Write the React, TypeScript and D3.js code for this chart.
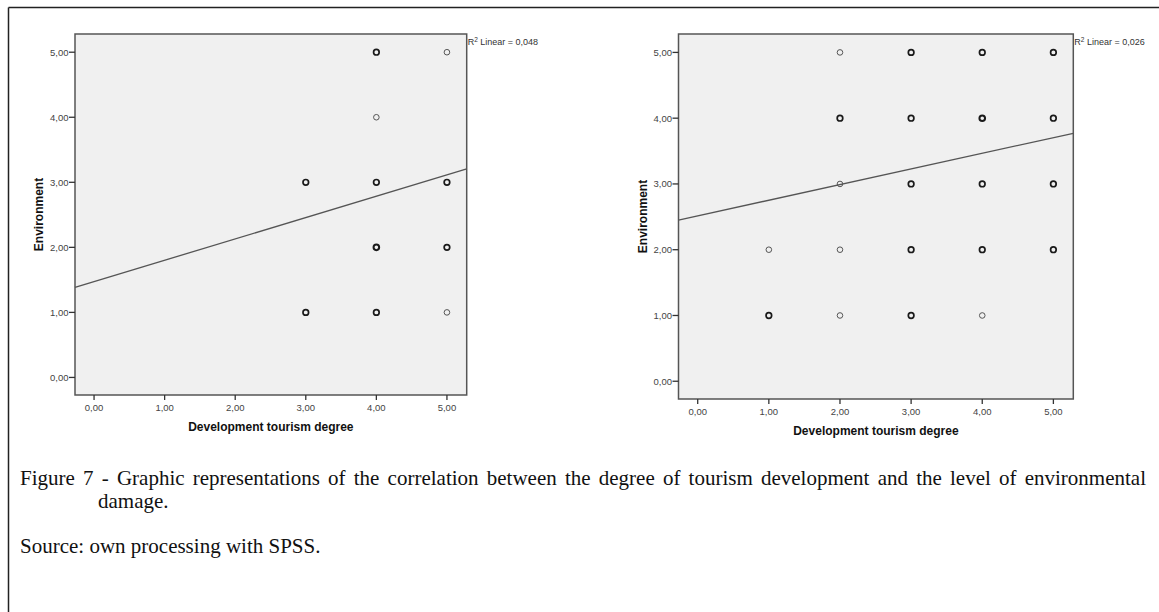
import React from 'react';
import * as d3 from 'd3';

// tick values shared by both scatter plots
const xTicks = [0, 1, 2, 3, 4, 5];
const yTicks = [0, 1, 2, 3, 4, 5];

// left plot: [tourism degree, environment, overlap count]
const leftPoints: [number, number, number][] = [
  [3, 3, 2], [3, 1, 2],
  [4, 5, 2], [4, 4, 1], [4, 3, 2], [4, 2, 3], [4, 1, 2],
  [5, 5, 1], [5, 3, 2], [5, 2, 2], [5, 1, 1],
];
const leftFit = { intercept: 1.473, slope: 0.3285 };
const leftR2 = '0,048';

// right plot
const rightPoints: [number, number, number][] = [
  [1, 2, 1], [1, 1, 2],
  [2, 5, 1], [2, 4, 2], [2, 3, 1], [2, 2, 1], [2, 1, 1],
  [3, 5, 2], [3, 4, 2], [3, 3, 2], [3, 2, 2], [3, 1, 2],
  [4, 5, 2], [4, 4, 3], [4, 3, 2], [4, 2, 2], [4, 1, 1],
  [5, 5, 2], [5, 4, 2], [5, 3, 2], [5, 2, 2],
];
const rightFit = { intercept: 2.515, slope: 0.2377 };
const rightR2 = '0,026';

const domain: [number, number] = [-0.27, 5.28];
const fmt = (v: number) => v.toFixed(2).replace('.', ',');
const sans = '"Liberation Sans", Arial, sans-serif';

type PanelProps = {
  left: number; top: number; width: number; height: number;
  points: [number, number, number][];
  fit: { intercept: number; slope: number };
  r2: string;
};

function Scatter({ left, top, width, height, points, fit, r2 }: PanelProps) {
  const x = d3.scaleLinear().domain(domain).range([left, left + width]);
  const y = d3.scaleLinear().domain(domain).range([top + height, top]);
  const bottom = top + height;
  const line = d3.line<number>()
    .x(d => x(d))
    .y(d => y(fit.intercept + fit.slope * d));

  return (
    <g>
      <rect x={left} y={top} width={width} height={height} fill="#f0f0f0" stroke="#555" strokeWidth={1.5} />
      {yTicks.map(t => (
        <g key={'y' + t}>
          <line x1={left - 6} x2={left} y1={y(t)} y2={y(t)} stroke="#333" strokeWidth={1.3} />
          <text x={left - 6.5} y={y(t)} dy="0.35em" textAnchor="end" fontSize={9.5} fill="#444" fontFamily={sans}>{fmt(t)}</text>
        </g>
      ))}
      {xTicks.map(t => (
        <g key={'x' + t}>
          <line x1={x(t)} x2={x(t)} y1={bottom} y2={bottom + 5} stroke="#333" strokeWidth={1.3} />
          <text x={x(t)} y={bottom + 13} dy="0.35em" textAnchor="middle" fontSize={9.5} fill="#444" fontFamily={sans}>{fmt(t)}</text>
        </g>
      ))}
      <path d={line(domain) || ''} fill="none" stroke="#555" strokeWidth={1.3} />
      {points.map(([px, py, n], i) => (
        <circle key={i} cx={x(px)} cy={y(py)} r={2.8}
          fill="none"
          stroke={n > 1 ? '#1a1a1a' : '#555'}
          strokeWidth={n > 2 ? 2 : n > 1 ? 1.7 : 1} />
      ))}
      <text x={left + width + 1} y={top + 11} fontSize={9} fill="#333" fontFamily={sans}>
        R<tspan fontSize={6.5} dy={-3.5}>2</tspan><tspan dy={3.5}> Linear = {r2}</tspan>
      </text>
      <text x={left + width / 2} y={bottom + 32} dy="0.35em" textAnchor="middle" fontSize={12} fontWeight="bold" fill="#111" fontFamily={sans}>
        Development tourism degree
      </text>
      <text transform={`translate(${left - 36},${top + height / 2}) rotate(-90)`} dy="0.35em" textAnchor="middle" fontSize={12} fontWeight="bold" fill="#111" fontFamily={sans}>
        Environment
      </text>
    </g>
  );
}

export default function App() {
  const serif = '"Liberation Serif", "Times New Roman", serif';
  return (
    <div style={{ position: 'absolute', left: 0, top: 0, width: 1159, height: 612, background: '#fff', overflow: 'hidden' }}>
      <svg width={1159} height={612} style={{ position: 'absolute', left: 0, top: 0 }}>
        <line x1={8.5} x2={1159} y1={7.5} y2={7.5} stroke="#222" strokeWidth={1.5} />
        <line x1={8.5} x2={8.5} y1={7.5} y2={612} stroke="#222" strokeWidth={1.5} />
        <Scatter left={75} top={34} width={391.7} height={361} points={leftPoints} fit={leftFit} r2={leftR2} />
        <Scatter left={678.5} top={34} width={394.8} height={365} points={rightPoints} fit={rightFit} r2={rightR2} />
      </svg>
      <div style={{
        position: 'absolute', left: 20, top: 467, width: 1126,
        fontFamily: serif, fontSize: 21, lineHeight: '23px', color: '#111',
        textAlign: 'justify', paddingLeft: 78, textIndent: -78, boxSizing: 'border-box',
      }}>
        Figure 7 - Graphic representations of the correlation between the degree of tourism development and the level of environmental damage.
      </div>
      <div style={{ position: 'absolute', left: 20, top: 535, fontFamily: serif, fontSize: 21, lineHeight: '23px', color: '#111' }}>
        Source: own processing with SPSS.
      </div>
    </div>
  );
}
